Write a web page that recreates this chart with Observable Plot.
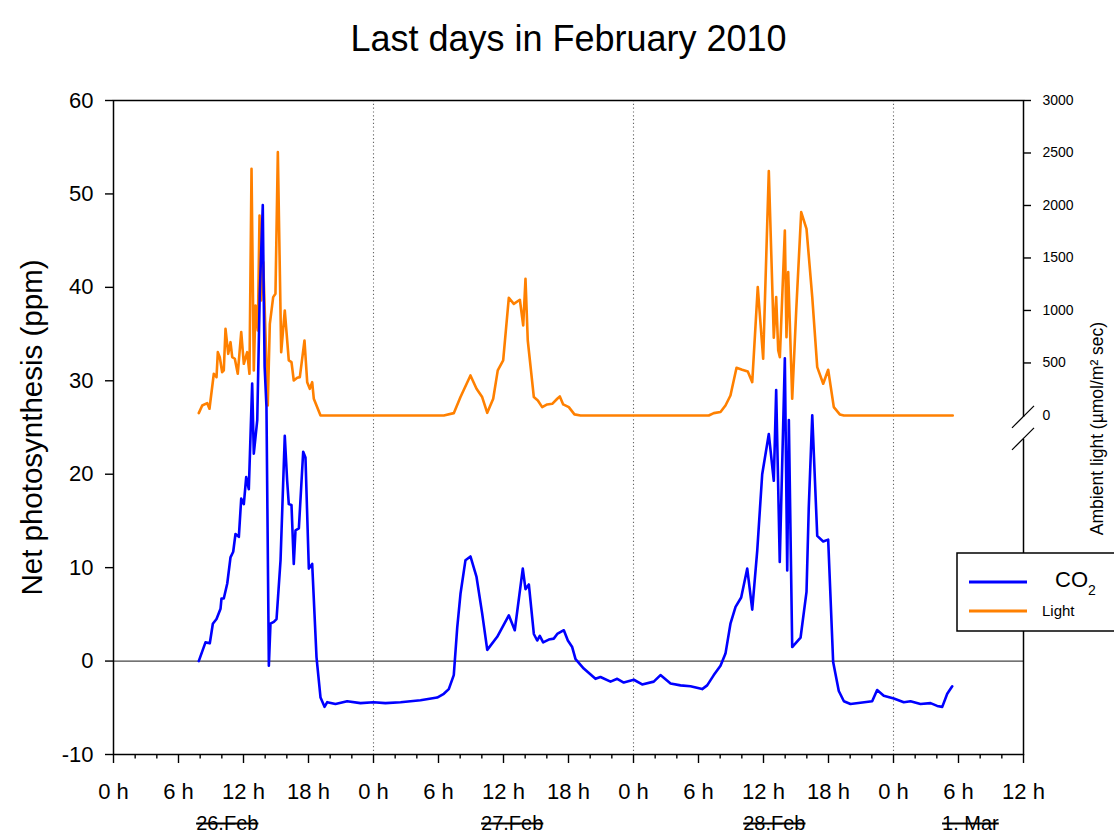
<!DOCTYPE html>
<html><head><meta charset="utf-8">
<script src="https://cdn.jsdelivr.net/npm/d3@7"></script>
<script src="https://cdn.jsdelivr.net/npm/@observablehq/plot@0.6"></script>
<style>html,body{margin:0;padding:0;background:#fff;overflow:hidden;} #chart{width:1114px;height:839px;}</style>
</head><body><div id="chart"></div>
<script>
// ---- data (hours since 26 Feb 2010, 0 h) ----
const co2Hours = [7.87, 8.49, 8.89, 9.17, 9.51, 9.88, 9.97, 10.18, 10.50, 10.80,
  11.05, 11.26, 11.57, 11.79, 12.03, 12.25, 12.49, 12.80, 12.95, 13.27,
  13.50, 13.78, 13.87, 13.95, 14.12, 14.34, 14.49, 14.80, 15.05, 15.42,
  15.81, 16.03, 16.18, 16.43, 16.64, 16.80, 17.11, 17.51, 17.72, 18.03,
  18.34, 18.74, 19.11, 19.48, 19.73, 20.49, 21.57, 22.80, 24.0, 25.1,
  26.5, 28.34, 29.88, 30.49, 30.95, 31.41, 31.73, 32.03, 32.49, 32.95,
  33.51, 34.03, 34.50, 35.42, 36.49, 37.04, 37.78, 38.03, 38.34, 38.80,
  39.11, 39.35, 39.66, 40.18, 40.64, 40.96, 41.57, 41.94, 42.34, 42.65,
  43.41, 44.49, 44.95, 45.88, 46.50, 47.10, 48.03, 48.80, 49.87, 50.49,
  51.42, 52.34, 53.26, 54.34, 54.80, 55.41, 56.03, 56.49, 56.95, 57.42,
  57.94, 58.50, 58.96, 59.42, 59.88, 60.49, 60.95, 61.17, 61.50, 61.97,
  62.19, 62.34, 62.65, 63.42, 63.97, 64.18, 64.50, 64.96, 65.51, 65.97,
  66.43, 66.95, 67.42, 68.03, 70.03, 70.49, 71.10, 72.03, 72.95, 73.57,
  74.49, 75.42, 76.03, 76.50, 76.96, 77.42];
const co2Ppm = [0.0, 2.0, 1.9, 4.0, 4.5, 5.6, 6.7, 6.7, 8.3, 11.1,
  11.7, 13.6, 13.3, 17.4, 16.8, 19.7, 18.4, 29.7, 22.2, 25.8,
  39.3, 48.8, 39.0, 31.5, 27.2, -0.5, 4.0, 4.2, 4.5, 10.8,
  24.1, 19.3, 16.8, 16.7, 10.4, 14.0, 14.2, 22.4, 21.8, 9.9,
  10.4, 0.4, -3.9, -4.9, -4.4, -4.6, -4.3, -4.5, -4.4, -4.5,
  -4.4, -4.2, -3.9, -3.5, -3.0, -1.5, 3.6, 7.2, 10.8, 11.2,
  9.0, 5.1, 1.2, 2.6, 4.9, 3.3, 9.9, 7.7, 8.2, 2.9,
  2.2, 2.7, 2.0, 2.3, 2.4, 2.9, 3.3, 2.2, 1.5, 0.2,
  -0.8, -1.9, -1.7, -2.2, -1.9, -2.3, -2.0, -2.5, -2.2, -1.5,
  -2.4, -2.6, -2.7, -3.0, -2.6, -1.5, -0.5, 0.8, 4.0, 5.8,
  6.8, 9.9, 5.5, 11.8, 20.0, 24.3, 19.3, 29.0, 10.6, 32.4,
  9.7, 25.8, 1.5, 2.5, 7.4, 16.5, 26.3, 13.4, 12.8, 13.0,
  -0.1, -3.2, -4.3, -4.6, -4.3, -3.1, -3.7, -4.0, -4.4, -4.3,
  -4.6, -4.5, -4.8, -4.9, -3.5, -2.7];

const lightHours = [7.87, 8.19, 8.65, 8.86, 9.26, 9.51, 9.63, 9.81, 10.03, 10.18,
  10.34, 10.59, 10.80, 10.96, 11.20, 11.47, 11.79, 12.03, 12.34, 12.55,
  12.74, 12.95, 13.11, 13.32, 13.48, 13.63, 13.82, 14.03, 14.24, 14.43,
  14.74, 14.95, 15.17, 15.48, 15.81, 16.18, 16.43, 16.64, 16.96, 17.20,
  17.63, 17.88, 18.12, 18.34, 18.49, 19.11, 30.49, 31.41, 32.03, 32.95,
  33.51, 34.03, 34.50, 35.05, 35.47, 35.97, 36.49, 36.95, 37.51, 37.82,
  38.03, 38.24, 38.80, 39.17, 39.57, 40.03, 40.50, 40.96, 41.20, 41.51,
  42.03, 42.55, 43.11, 54.95, 55.41, 56.03, 56.49, 56.95, 57.51, 58.03,
  58.55, 58.96, 59.47, 59.97, 60.49, 60.95, 61.17, 61.36, 61.51, 61.97,
  62.12, 62.28, 62.65, 63.02, 63.48, 63.97, 64.50, 64.96, 65.51, 65.97,
  66.49, 67.04, 67.42, 77.47];
const lightUmol = [22, 95, 117, 64, 397, 365, 603, 555, 412, 429,
  825, 587, 698, 555, 540, 397, 794, 492, 603, 397,
  2349, 429, 1048, 810, 1905, 1095, 1460, 778, 95, 873,
  1127, 1159, 2508, 603, 1000, 524, 508, 333, 359, 365,
  714, 317, 254, 317, 159, 0, 0, 22, 175, 381,
  254, 175, 25, 159, 429, 524, 1121, 1063, 1102, 857,
  1302, 714, 175, 143, 79, 105, 111, 159, 181, 105,
  79, 10, 0, 0, 22, 32, 95, 190, 454, 435,
  419, 317, 1222, 540, 2327, 740, 1127, 619, 555, 1762,
  746, 1365, 159, 1000, 1937, 1778, 1127, 460, 302, 435,
  79, 10, 0, 0];

const xTickHours = [0, 6, 12, 18, 24, 30, 36, 42, 48, 54, 60, 66, 72, 78, 84];
const xMinorHours = d3.range(0, 85, 2).filter(h => h % 6 !== 0);
const dayStartHours = [24, 48, 72];
const dateLabels = ["26.Feb", "27.Feb", "28.Feb", "1. Mar"];
const dateLabelHours = [10.5, 36.8, 61.0, 79.1];
const leftTicks = [-10, 0, 10, 20, 30, 40, 50, 60];
const lightTicks = [0, 500, 1000, 1500, 2000, 2500, 3000];

const titleText = "Last days in February 2010";
const leftLabel = "Net photosynthesis (ppm)";
const rightLabel = "Ambient light (µmol/m² sec)";

// light axis is overlaid on the ppm axis: 0 µmol ↔ 26.29 ppm, 3000 µmol ↔ 60 ppm
const lightZeroPpm = 26.29, lightTopPpm = 60, lightTop = 3000;
const toPpm = L => lightZeroPpm + L * (lightTopPpm - lightZeroPpm) / lightTop;
const fromPpm = p => Math.round((p - lightZeroPpm) * lightTop / (lightTopPpm - lightZeroPpm));

const co2Data = co2Hours.map((h, i) => ({h, v: co2Ppm[i]}));
const lightData = lightHours.map((h, i) => ({h, v: lightUmol[i]}));

const BLUE = "#0000ff", ORANGE = "#ff8000";

const plot = Plot.plot({
  width: 1114, height: 839,
  marginLeft: 113, marginRight: 91, marginTop: 100, marginBottom: 85,
  style: {fontFamily: "'Liberation Sans', Arial, sans-serif", fontSize: "22px", background: "white", color: "black"},
  x: {domain: [0, 84]},
  y: {domain: [-10, 60]},
  marks: [
    Plot.ruleX(dayStartHours, {stroke: "#666", strokeDasharray: "1.2,2.6", strokeWidth: 1.1}),
    Plot.ruleY([0], {stroke: "#444", strokeWidth: 1.3}),
    Plot.line(lightData, {x: "h", y: d => toPpm(d.v), stroke: ORANGE, strokeWidth: 2.6}),
    Plot.line(co2Data, {x: "h", y: "v", stroke: BLUE, strokeWidth: 2.6}),
    Plot.frame({stroke: "black", strokeWidth: 1.5}),
    Plot.axisX({ticks: xTickHours, tickSize: 9, tickPadding: 20, fontSize: 22, strokeWidth: 1.4,
      tickFormat: d => `${d % 24} h`, label: null}),
    Plot.axisX({ticks: xMinorHours, tickSize: 4.5, strokeWidth: 1.4, tickFormat: () => "", label: null}),
    Plot.axisY({anchor: "left", ticks: leftTicks, tickSize: 8, tickPadding: 12, fontSize: 22, strokeWidth: 1.4,
      tickFormat: d => String(d), label: null}),
    Plot.axisY({anchor: "right", ticks: lightTicks.filter(v => v > 0).map(toPpm), tickSize: 7, tickPadding: 12,
      fontSize: 14, strokeWidth: 1.4, tickFormat: p => String(fromPpm(p)), label: null}),
    Plot.axisY({anchor: "right", ticks: [toPpm(0)], tickSize: 0, tickPadding: 19,
      fontSize: 14, tickFormat: p => String(fromPpm(p)), label: null}),
    Plot.text(dateLabels, {x: (d, i) => dateLabelHours[i], text: d => d, frameAnchor: "bottom", dy: 75, fontSize: 20}),
    Plot.text([titleText], {text: d => d, frameAnchor: "top", dy: -75, fontSize: 36}),
    Plot.text([leftLabel], {text: d => d, frameAnchor: "left", textAnchor: "middle", rotate: -90, dx: -81, fontSize: 29.5}),
    Plot.text([rightLabel], {text: d => d, frameAnchor: "right", textAnchor: "middle", rotate: -90, dx: 74, dy: 1, fontSize: 17.5})
  ]
});
document.getElementById("chart").appendChild(plot);

const svg = d3.select(plot);
// strike line through the date labels, as in the original
svg.selectAll("text").filter(function () { return dateLabels.includes(this.textContent); })
  .style("text-decoration", "line-through");

// axis break on the right axis below 0 µmol
const ys = plot.scale("y"), xs = plot.scale("x");
const xr = xs.apply(84);
const y0 = ys.apply(toPpm(0));
const c1 = y0 + 2, c2 = y0 + 24;
svg.append("rect").attr("x", xr - 3).attr("y", c1).attr("width", 6).attr("height", c2 - c1).attr("fill", "white");
[c1, c2].forEach(c => svg.append("line").attr("x1", xr - 11).attr("y1", c + 11).attr("x2", xr + 11).attr("y2", c - 11)
  .attr("stroke", "black").attr("stroke-width", 1.2));

// legend box
const lg = svg.append("g").attr("text-anchor", "start");
lg.append("rect").attr("x", 957).attr("y", 553).attr("width", 170).attr("height", 78)
  .attr("fill", "white").attr("stroke", "black").attr("stroke-width", 1.5);
lg.append("line").attr("x1", 969).attr("x2", 1027).attr("y1", 582).attr("y2", 582).attr("stroke", BLUE).attr("stroke-width", 3);
lg.append("line").attr("x1", 969).attr("x2", 1027).attr("y1", 611).attr("y2", 611).attr("stroke", ORANGE).attr("stroke-width", 3);
const co = lg.append("text").attr("x", 1055).attr("y", 587).attr("font-size", 22).attr("text-anchor", "start").text("CO");
co.append("tspan").attr("font-size", 14).attr("dy", 8).text("2");
lg.append("text").attr("x", 1042).attr("y", 616).attr("font-size", 15).attr("text-anchor", "start").text("Light");
</script></body></html>
